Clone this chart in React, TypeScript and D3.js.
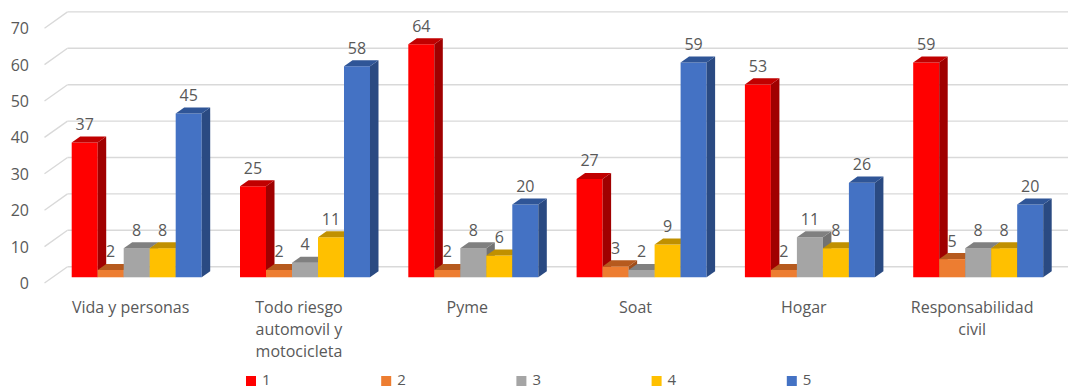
import React from "react";
import * as d3 from "d3";

// Categories, series and values
const categories: string[][] = [
  ["Vida y personas"],
  ["Todo riesgo", "automovil y", "motocicleta"],
  ["Pyme"],
  ["Soat"],
  ["Hogar"],
  ["Responsabilidad", "civil"],
];
const seriesNames = ["1", "2", "3", "4", "5"];
const series1 = [37, 25, 64, 27, 53, 59];
const series2 = [2, 2, 2, 3, 2, 5];
const series3 = [8, 4, 8, 2, 11, 8];
const series4 = [8, 11, 6, 9, 8, 8];
const series5 = [45, 58, 20, 59, 26, 20];
const yTicks = [0, 10, 20, 30, 40, 50, 60, 70];

const seriesValues = [series1, series2, series3, series4, series5];

// front / top / side shades for each series
const frontColors = ["#FF0000", "#ED7D31", "#A5A5A5", "#FFC000", "#4472C4"];
const topColors = ["#C00000", "#B65A1E", "#808080", "#C09000", "#2F5597"];
const sideColors = ["#A00000", "#A04E1A", "#727272", "#A67D00", "#2A4A82"];

const W = 1068;
const H = 389;
const FONT = "'Open Sans', 'Noto Sans', sans-serif";
const TEXT = "#595959";
const GRID = "#D9D9D9";
const FS = 16;

// oblique depth offsets for the whole floor
const DX = 23;
const DY = 16.3;
const D0 = 0.35; // bar front plane depth
const D1 = 0.72; // bar back plane depth

const X0 = 44.5;
const STEP = 168.3;

export default function App() {
  const catKeys = categories.map((c) => c.join(" "));
  const x = d3
    .scaleBand<string>()
    .domain(catKeys)
    .range([X0, X0 + STEP * catKeys.length])
    .paddingInner(0.2276)
    .paddingOuter(0.1138);
  const xs = d3.scaleBand<string>().domain(seriesNames).range([0, x.bandwidth()]);
  const y = d3.scaleLinear().domain([0, 70]).range([283, 283 - 70 * 3.64]);

  const P = (px: number, v: number, d: number): [number, number] => [px + d * DX, y(v) - d * DY];
  const poly = (pts: [number, number][]) => pts.map((p) => p.join(",")).join(" ");

  const bars: React.ReactNode[] = [];
  const labels: React.ReactNode[] = [];
  catKeys.forEach((ck, ci) => {
    seriesNames.forEach((s, si) => {
      const v = seriesValues[si][ci];
      const xl = (x(ck) as number) + (xs(s) as number);
      const xr = xl + xs.bandwidth();
      const front = [P(xl, 0, D0), P(xr, 0, D0), P(xr, v, D0), P(xl, v, D0)] as [number, number][];
      const top = [P(xl, v, D0), P(xr, v, D0), P(xr, v, D1), P(xl, v, D1)] as [number, number][];
      const side = [P(xr, 0, D0), P(xr, 0, D1), P(xr, v, D1), P(xr, v, D0)] as [number, number][];
      bars.push(
        <g key={`${ci}-${si}`}>
          <polygon points={poly(front)} fill={frontColors[si]} />
          <polygon points={poly(side)} fill={sideColors[si]} />
          <polygon points={poly(top)} fill={topColors[si]} />
        </g>
      );
      const [lx] = P((xl + xr) / 2, v, D0);
      const [, ly] = P(xl, v, D1);
      labels.push(
        <text
          key={`l-${ci}-${si}`}
          x={lx}
          y={ly - 12.5}
          textAnchor="middle"
          dominantBaseline="central"
          fontSize={FS}
          fill={TEXT}
        >
          {v}
        </text>
      );
    });
  });

  const backLeft = X0 + DX;
  const backRight = X0 + STEP * catKeys.length + DX;

  return (
    <svg
      width={W}
      height={H}
      style={{ position: "absolute", left: 0, top: 0, background: "#fff" }}
      fontFamily={FONT}
    >
      {/* gridlines: side wall diagonal + back wall */}
      {yTicks.map((t) => (
        <g key={`g-${t}`} stroke={GRID} strokeWidth={1.4} fill="none">
          <line x1={X0} y1={y(t)} x2={backLeft} y2={y(t) - DY} />
          <line x1={backLeft} y1={y(t) - DY} x2={backRight} y2={y(t) - DY} />
        </g>
      ))}
      {/* y tick labels */}
      {yTicks.map((t) => (
        <text
          key={`t-${t}`}
          x={29}
          y={y(t)}
          textAnchor="end"
          dominantBaseline="central"
          fontSize={FS}
          fill={TEXT}
        >
          {t}
        </text>
      ))}
      {bars}
      {labels}
      {/* category labels */}
      {categories.map((lines, ci) => {
        const cx = (x(catKeys[ci]) as number) + x.bandwidth() / 2 + 2;
        return (
          <text key={`c-${ci}`} x={cx} y={312.5} textAnchor="middle" fontSize={FS} fill={TEXT}>
            {lines.map((ln, li) => (
              <tspan key={li} x={cx} dy={li === 0 ? 0 : 22.3}>
                {ln}
              </tspan>
            ))}
          </text>
        );
      })}
      {/* legend */}
      {seriesNames.map((s, si) => (
        <g key={`lg-${s}`} transform={`translate(${246 + si * 135.2},376)`}>
          <rect width={10} height={10} fill={frontColors[si]} />
          <text x={16} y={9} fontSize={15} fill={TEXT}>
            {s}
          </text>
        </g>
      ))}
    </svg>
  );
}
